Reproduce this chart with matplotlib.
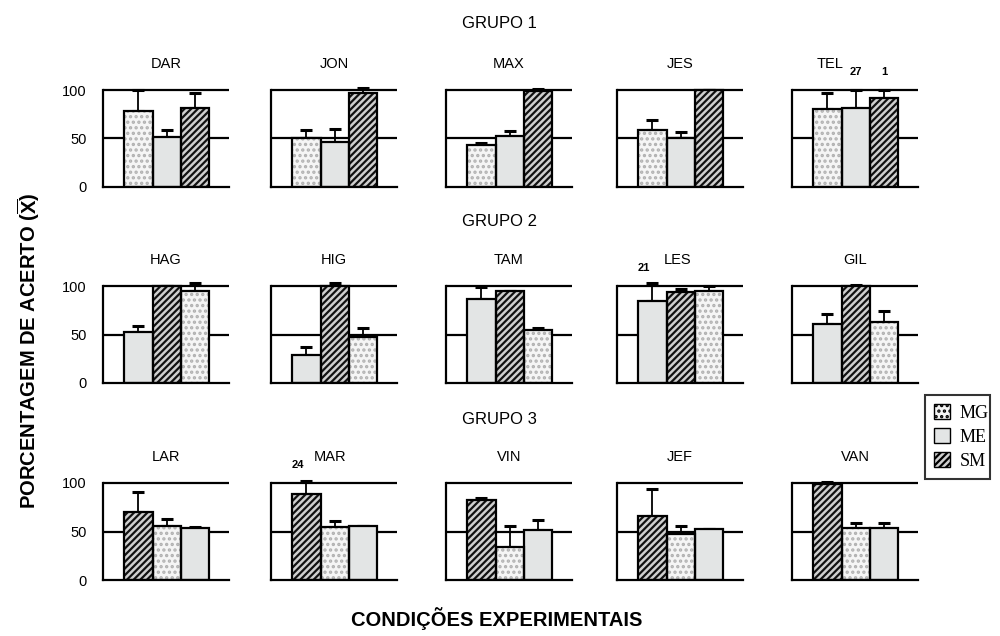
#!/usr/bin/env python3

"""Porcentagem de acerto por participante e condição experimental."""

import numpy as np
import matplotlib.pyplot as plt
from matplotlib.patches import Patch

plt.rcParams['font.family'] = ['Liberation Sans', 'DejaVu Sans']
plt.rcParams['hatch.linewidth'] = 1.6
plt.rcParams['mathtext.fontset'] = 'custom'
plt.rcParams['mathtext.rm'] = 'Liberation Sans'
plt.rcParams['mathtext.bf'] = 'Liberation Sans:bold'

# participantes por grupo
grupo1 = ['DAR', 'JON', 'MAX', 'JES', 'TEL']
grupo2 = ['HAG', 'HIG', 'TAM', 'LES', 'GIL']
grupo3 = ['LAR', 'MAR', 'VIN', 'JEF', 'VAN']

# ordem das condições em cada grupo
ordem1 = ['MG', 'ME', 'SM']
ordem2 = ['ME', 'SM', 'MG']
ordem3 = ['SM', 'MG', 'ME']

# médias (%) na ordem acima
medias1 = [[78, 52, 81], [51, 46, 97], [43, 53, 99], [59, 51, 100], [80, 81, 92]]
medias2 = [[53, 100, 95], [29, 100, 47], [87, 95, 55], [85, 94, 95], [61, 100, 63]]
medias3 = [[70, 56, 54], [89, 55, 56], [82, 34, 52], [66, 47, 53], [99, 54, 54]]

# desvios (só a parte superior é desenhada)
desvios1 = [[22, 7, 16], [8, 14, 5], [2, 5, 2], [10, 6, 0], [17, 19, 8]]
desvios2 = [[6, 0, 8], [8, 3, 10], [12, 0, 2], [18, 3, 5], [10, 1, 11]]
desvios3 = [[21, 7, 1], [13, 6, 0], [3, 22, 10], [28, 9, 0], [2, 5, 5]]

# desvios que saem da escala, escritos acima das barras
notas = {('TEL', 1): '27', ('TEL', 2): '1', ('LES', 0): '21', ('MAR', 0): '24'}

estilo = {
    'MG': dict(face='#f5f5f5', hatch='...', hcolor='#b0b0b0'),
    'ME': dict(face='#e3e5e5', hatch=None, hcolor='#e3e5e5'),
    'SM': dict(face='#cfcfcf', hatch='/////', hcolor='#111111'),
}

fig = plt.figure(figsize=(10, 6.36), dpi=100)

lefts = [103, 271, 446, 617, 792]
zeros = [187, 383, 580]
px100 = 97
top = 115
grupos = [(grupo1, ordem1, medias1, desvios1),
          (grupo2, ordem2, medias2, desvios2),
          (grupo3, ordem3, medias3, desvios3)]
titulo_x = {'TEL': 0.30, 'MAR': 0.47, 'LES': 0.48}

x = np.arange(3)
for r, (nomes, ordem, medias, desvios) in enumerate(grupos):
    for c, nome in enumerate(nomes):
        h = top * px100 / 100
        ax = fig.add_axes([lefts[c] / 1000, 1 - zeros[r] / 636, 126 / 1000, h / 636])
        vals = medias[c]
        errs = desvios[c]
        for i, cond in enumerate(ordem):
            st = estilo[cond]
            ax.bar(x[i], vals[i], width=1, color=st['face'], hatch=st['hatch'],
                   edgecolor=st['hcolor'], linewidth=0, zorder=2)
            ax.bar(x[i], vals[i], width=1, facecolor='none', edgecolor='black',
                   linewidth=1.6, zorder=3)
        ax.errorbar(x, vals, yerr=[np.zeros(3), errs], fmt='none', ecolor='black',
                    elinewidth=1.3, capsize=4, capthick=2.2, zorder=1.5)
        for k, v in notas.items():
            if k[0] == nome:
                ax.text(x[k[1]] - (0.3 if nome in ('LES', 'MAR') else 0), 119, v,
                        ha='center', va='center', fontsize=8, fontweight='bold')
        for yy in (50, 100):
            ax.axhline(yy, color='black', lw=1.6, zorder=1)
        ax.set_xlim(-1.25, 3.2)
        ax.set_ylim(0, top)
        for s in ('top', 'right'):
            ax.spines[s].set_visible(False)
        ax.spines['left'].set_bounds(0, 100)
        ax.spines['left'].set_linewidth(1.6)
        ax.spines['bottom'].set_linewidth(1.6)
        ax.set_xticks([])
        ax.set_yticks([0, 50, 100])
        ax.tick_params(axis='y', length=0, pad=12, labelsize=10.5)
        if c > 0:
            ax.set_yticklabels([])
        ax.patch.set_alpha(0)
        ax.text(titulo_x.get(nome, 0.5), 127, nome, transform=ax.get_yaxis_transform(),
                ha='center', va='center', fontsize=10.5, clip_on=False)

# textos
for txt, yy in (('GRUPO 1', 23), ('GRUPO 2', 222), ('GRUPO 3', 419)):
    fig.text(0.499, 1 - yy / 636, txt, ha='center', va='center', fontsize=12)

fig.text(0.029, 1 - 351 / 636, r'PORCENTAGEM DE ACERTO ($\mathbf{\overline{X}}$)',
         rotation=90, ha='center', va='center', fontsize=14.5, fontweight='bold')
fig.text(0.497, 1 - 619 / 636, 'CONDIÇÕES EXPERIMENTAIS', ha='center', va='center',
         fontsize=14.5, fontweight='bold')

handles = [Patch(facecolor=estilo[k]['face'], hatch=estilo[k]['hatch'],
                 edgecolor='black', label=k) for k in ('MG', 'ME', 'SM')]
leg = fig.legend(handles=handles, loc='lower left',
                 bbox_to_anchor=(0.916, 1 - 488 / 636, 0.083, 0.16), mode='expand',
                 frameon=True, fancybox=False,
                 prop={'family': 'Liberation Serif', 'size': 13},
                 handlelength=0.9, handleheight=0.9, handletextpad=0.5,
                 borderpad=0.5, labelspacing=0.35)
leg.get_frame().set_edgecolor('black')
leg.get_frame().set_linewidth(1.5)

plt.savefig('out.png', dpi=100)
